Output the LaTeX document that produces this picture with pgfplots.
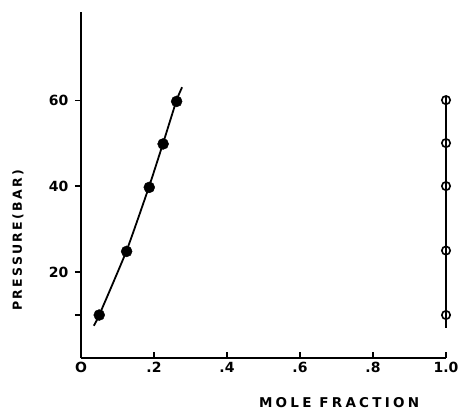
\documentclass[border=0pt]{standalone}
\usepackage{fontspec}
\setmainfont{DejaVu Sans}
\usepackage{pgfplots}
\pgfplotsset{compat=1.18}
\begin{document}
\begin{tikzpicture}
\begin{axis}[
  scale only axis,
  width=365pt, height=346pt,
  xmin=0, xmax=1.0, ymin=0, ymax=80.5,
  axis lines*=left,
  axis line style={line width=1.8pt},
  clip=false,
  xtick={0,0.2,0.4,0.6,0.8,1.0},
  xticklabels={O,.2,.4,.6,.8,1.0},
  ytick={20,40,60},
  yticklabels={20,40,60},
  extra y ticks={10},
  extra y tick labels={},
  x tick label style={font=\fontsize{14}{15}\selectfont\bfseries, yshift=-1pt},
  y tick label style={font=\fontsize{14}{15}\selectfont\bfseries, xshift=-3pt},
  /pgf/number format/assume math mode=true,
  tick style={line width=1.2pt, black},
  ytick align=outside, xtick align=inside,
  major tick length=6pt,
  xlabel={\addfontfeatures{LetterSpace=24}MOLE FRACTION},
  ylabel={\addfontfeatures{LetterSpace=18}PRESSURE(BAR)},
  xlabel style={font=\fontsize{13.5}{14}\selectfont\bfseries, at={(rel axis cs:0.707,0)}, anchor=center, yshift=-45pt},
  ylabel style={font=\fontsize{12.5}{14}\selectfont\bfseries, at={(rel axis cs:0,0.34)}, anchor=center, yshift=63pt},
]
\addplot[black, line width=1.8pt, smooth, tension=0.3] coordinates {
  (0.035,7.5) (0.05,10) (0.125,25) (0.187,40) (0.225,50) (0.262,60) (0.277,63)
};
\addplot[only marks, mark=*, mark size=5.5pt, black] coordinates {
  (0.05,10) (0.125,24.8) (0.187,39.7) (0.225,49.8) (0.262,59.7)
};
\addplot[black, line width=1.8pt] coordinates {(1.0,7) (1.0,61)};
\addplot[only marks, mark=o, mark size=4.2pt, black, mark options={line width=1.6pt, fill=none}] coordinates {
  (1.0,10) (1.0,25) (1.0,40) (1.0,50) (1.0,60)
};
\end{axis}
\path ([shift={(-81pt,-61pt)}]current axis.south west) rectangle ([shift={(16pt,12pt)}]current axis.north east);
\end{tikzpicture}
\end{document}
